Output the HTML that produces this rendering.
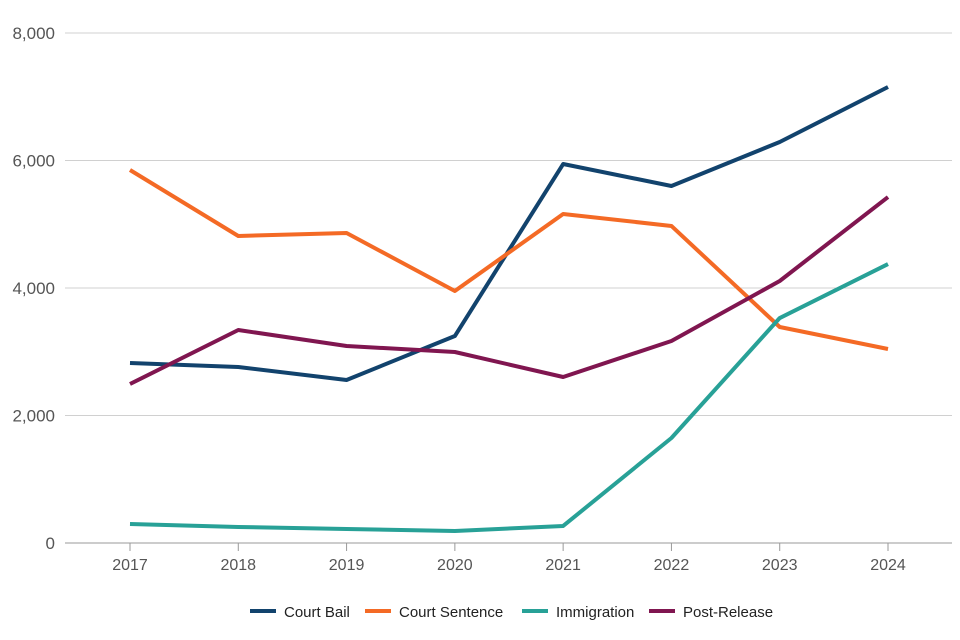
<!DOCTYPE html>
<html><head><meta charset="utf-8">
<style>
html,body{margin:0;padding:0;background:#fff;}
svg{display:block;font-family:"Liberation Sans",sans-serif;}
</style></head>
<body>
<svg id="chart" width="960" height="640" viewBox="0 0 960 640"></svg>
<script>
const years = ["2017","2018","2019","2020","2021","2022","2023","2024"];
const courtBail = [2824,2761,2557,3247,5945,5600,6290,7153];
const courtSentence = [5851,4816,4863,3953,5161,4973,3388,3043];
const immigration = [298,251,220,188,267,1647,3529,4376];
const postRelease = [2494,3341,3090,2996,2604,3169,4110,5427];
const yTicks = [0,2000,4000,6000,8000];
const seriesNames = ["Court Bail","Court Sentence","Immigration","Post-Release"];
const seriesColors = ["#12436d","#f46a25","#28a197","#801650"];
const seriesData = [courtBail,courtSentence,immigration,postRelease];

(function(){
const NS="http://www.w3.org/2000/svg";
const svg=document.getElementById('chart');
const padL=65,padR=952,padT=33,padB=543;
const x0=130,x1=888;
function xs(i){return x0+(x1-x0)*i/(years.length-1);}
function ys(v){return padB-(padB-padT)*v/8000;}
function mk(tag,attrs){const e=document.createElementNS(NS,tag);for(const k in attrs)e.setAttribute(k,attrs[k]);svg.appendChild(e);return e;}

yTicks.forEach(t=>{
  const g=mk('line',{x1:padL,x2:padR,y1:ys(t),y2:ys(t),stroke:t===0?'#999':'#d0d0d0','stroke-width':1});
  
  
  const tx=mk('text',{x:55,y:ys(t)+6,'text-anchor':'end','font-size':17,fill:'#555'});
  tx.textContent=t.toLocaleString('en-US');
  
  
});
years.forEach((y,i)=>{
  const tk=mk('line',{x1:xs(i),x2:xs(i),y1:padB,y2:padB+8,stroke:'#999','stroke-width':1});
  
  
  const tx=mk('text',{x:xs(i),y:570,'text-anchor':'middle','font-size':16,fill:'#555'});
  tx.textContent=y;
  
  
});
seriesData.forEach((d,s)=>{
  const p=mk('polyline',{points:d.map((v,i)=>xs(i)+','+ys(v)).join(' '),fill:'none',stroke:seriesColors[s],'stroke-width':4,'stroke-linejoin':'round'});
  
  
});
const legendX=[250,365,522,649];
seriesNames.forEach((n,s)=>{
  const l=mk('line',{x1:legendX[s],x2:legendX[s]+26,y1:611,y2:611,stroke:seriesColors[s],'stroke-width':4});
  
  
  const t=mk('text',{x:legendX[s]+34,y:617,'font-size':15,fill:'#222'});
  t.textContent=n;
  
  
});
})();
</script>
</body></html>
